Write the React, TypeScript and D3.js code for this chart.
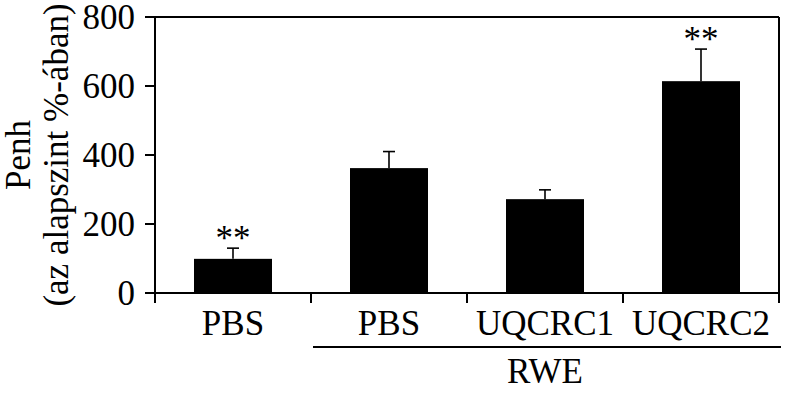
import React from 'react';
import * as d3 from 'd3';

const categories = ['PBS', 'PBS RWE', 'UQCRC1', 'UQCRC2'];
const tickLabels = ['PBS', 'PBS', 'UQCRC1', 'UQCRC2'];
const means = [99, 362, 272, 614];
const errors = [31, 48, 27, 93];
const stars = ['**', '', '', '**'];
const yTicks = [0, 200, 400, 600, 800];

const FONT = 'Liberation Serif';
const FS = 35;
const txt: React.CSSProperties = { fontFamily: "'Liberation Serif', 'Times New Roman', serif", fontSize: '35px' };

const left = 155, right = 779, top = 17, bottom = 293;

const x = d3.scaleBand<string>()
  .domain(categories)
  .range([left, right])
  .paddingInner(0.5)
  .paddingOuter(0.25);

const y = d3.scaleLinear().domain([0, 800]).range([bottom, top]);

export default function App() {
  const step = x.step();
  const bounds = d3.range(categories.length + 1).map(i => left + i * step);

  return (
    <svg width={787} height={394} style={{ position: 'absolute', left: 0, top: 0, background: '#fff', fontFamily: 'serif' }}>
      <style>{"text { font-family: 'Liberation Serif', 'Times New Roman', serif !important; }"}</style>
      {/* bars */}
      {categories.map((c, i) => (
        <rect key={c} x={x(c)} y={y(means[i])} width={x.bandwidth()} height={bottom - y(means[i])} fill="#000" />
      ))}

      {/* error bars, upper only */}
      {categories.map((c, i) => {
        const cx = x(c)! + x.bandwidth() / 2;
        const ye = y(means[i] + errors[i]);
        return (
          <g key={'e' + c}>
            <line x1={cx} x2={cx} y1={y(means[i])} y2={ye} stroke="#000" strokeWidth={1.6} />
            <line x1={cx - 6} x2={cx + 6} y1={ye} y2={ye} stroke="#000" strokeWidth={1.6} />
            {stars[i] && (
              <text x={cx} y={ye + 2} textAnchor="middle" fontFamily={FONT} fontSize={FS} style={txt}>{stars[i]}</text>
            )}
          </g>
        );
      })}

      {/* frame */}
      <g stroke="#000" strokeWidth={2}>
        <line x1={left} x2={left} y1={top} y2={bottom} />
        <line x1={left} x2={right} y1={top} y2={top} />
        <line x1={right} x2={right} y1={top} y2={bottom} />
        <line x1={left} x2={right} y1={bottom} y2={bottom} />
        {yTicks.map(t => (
          <line key={'yt' + t} x1={left - 10} x2={left} y1={y(t)} y2={y(t)} />
        ))}
        {bounds.map(b => (
          <line key={'xt' + b} x1={b} x2={b} y1={bottom} y2={bottom + 10} />
        ))}
      </g>

      {/* y tick labels */}
      {yTicks.map(t => (
        <text key={'yl' + t} x={left - 20} y={y(t) + 12} textAnchor="end" fontFamily={FONT} fontSize={FS} style={txt}>{t}</text>
      ))}

      {/* category labels */}
      {categories.map((c, i) => (
        <text key={'cl' + c} x={x(c)! + x.bandwidth() / 2} y={335} textAnchor="middle" fontFamily={FONT} fontSize={FS} style={txt}>
          {tickLabels[i]}
        </text>
      ))}

      {/* RWE group */}
      <line x1={bounds[1] + 2} x2={right + 2} y1={347} y2={347} stroke="#000" strokeWidth={2} />
      <text x={(bounds[1] + right) / 2} y={383} textAnchor="middle" fontFamily={FONT} fontSize={FS} style={txt}>RWE</text>

      {/* y title */}
      <text x={0} y={0} transform={`translate(30,${(top + bottom) / 2}) rotate(-90)`} textAnchor="middle" fontFamily={FONT} fontSize={FS} style={txt}>
        Penh
      </text>
      <text x={0} y={0} transform={`translate(68,${(top + bottom) / 2}) rotate(-90)`} textAnchor="middle" fontFamily={FONT} fontSize={FS} style={txt}>
        (az alapszint %-ában)
      </text>
    </svg>
  );
}
